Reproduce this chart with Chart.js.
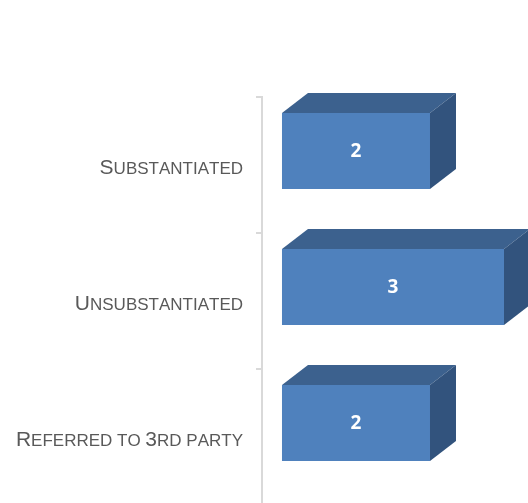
<!DOCTYPE html>
<html>
<head>
<meta charset="utf-8">
<script src="https://cdn.jsdelivr.net/npm/chart.js@4.4.0/dist/chart.umd.min.js"></script>
<style>
    html, body { margin: 0; padding: 0; background: #fff; overflow: hidden; }
    #wrap { width: 528px; height: 510px; position: relative; }
</style>
</head>
<body>
<div id="wrap"><canvas id="casesChart"></canvas></div>
<script>
const categories = ['Substantiated', 'Unsubstantiated', 'Referred to 3rd party'];
const counts = [2, 3, 2];

// colori delle facce del parallelepipedo
const frontColor = '#4f81bd';
const topColor = '#3c618e';
const sideColor = '#32537d';
const depthX = 26;
const depthY = -20;
const liftY = -14; // i blocchi 3D stanno un po' sopra il centro della categoria

// disegna testo in maiuscoletto (prima lettera e cifre grandi)
function drawSmallCaps(ctx, text, right, baseline) {
    const big = '21px "Liberation Sans", Arial, sans-serif';
    const small = '17px "Liberation Sans", Arial, sans-serif';
    const parts = [...text].map(ch => {
        const isBig = ch !== ' ' && (ch === ch.toUpperCase() && ch !== ch.toLowerCase() || /[0-9]/.test(ch));
        return { ch: ch.toUpperCase(), font: isBig ? big : small };
    });
    let total = 0;
    parts.forEach(p => {
        ctx.font = p.font;
        p.w = ctx.measureText(p.ch).width;
        total += p.w;
    });
    let x = right - total;
    ctx.textAlign = 'left';
    ctx.textBaseline = 'alphabetic';
    parts.forEach(p => {
        ctx.font = p.font;
        ctx.fillText(p.ch, x, baseline);
        x += p.w;
    });
}

const bar3d = {
    id: 'bar3d',
    beforeDatasetsDraw(chart) {
        chart.ctx.save();
        chart.ctx.translate(0, liftY);
    },
    afterDatasetsDraw(chart) {
        const ctx = chart.ctx;
        const meta = chart.getDatasetMeta(0);
        meta.data.forEach((bar, i) => {
            const top = bar.y - bar.height / 2;
            const bottom = bar.y + bar.height / 2;
            const left = bar.base;
            const right = bar.x;

            ctx.fillStyle = topColor;
            ctx.beginPath();
            ctx.moveTo(left, top);
            ctx.lineTo(left + depthX, top + depthY);
            ctx.lineTo(right + depthX, top + depthY);
            ctx.lineTo(right, top);
            ctx.closePath();
            ctx.fill();

            ctx.fillStyle = sideColor;
            ctx.beginPath();
            ctx.moveTo(right, top);
            ctx.lineTo(right + depthX, top + depthY);
            ctx.lineTo(right + depthX, bottom + depthY);
            ctx.lineTo(right, bottom);
            ctx.closePath();
            ctx.fill();

            ctx.fillStyle = '#ffffff';
            ctx.font = 'bold 19px "Open Sans", sans-serif';
            ctx.textAlign = 'center';
            ctx.textBaseline = 'middle';
            ctx.fillText(String(counts[i]), (left + right) / 2, bar.y + 1);
        });
        ctx.restore();
    },
    afterDraw(chart) {
        const ctx = chart.ctx;
        const yScale = chart.scales.y;
        ctx.save();
        ctx.fillStyle = '#595959';
        categories.forEach((label, i) => {
            const y = yScale.getPixelForTick(i);
            drawSmallCaps(ctx, label, chart.chartArea.left - 19, y + 9);
        });
        ctx.restore();
    }
};

const ctx = document.getElementById('casesChart').getContext('2d');

new Chart(ctx, {
    type: 'bar',
    data: {
        labels: categories,
        datasets: [{
            data: counts,
            base: 0,
            backgroundColor: frontColor,
            borderWidth: 0,
            barPercentage: 0.56,
            categoryPercentage: 1
        }]
    },
    options: {
        indexAxis: 'y',
        responsive: true,
        maintainAspectRatio: false,
        animation: false,
        devicePixelRatio: 1,
        layout: {
            padding: { top: 97, bottom: 5, right: 24, left: 0 }
        },
        scales: {
            x: {
                display: false,
                min: -0.27,
                max: 3
            },
            y: {
                afterFit: function (scale) {
                    scale.width = 262;
                },
                grid: {
                    offset: true,
                    drawOnChartArea: false,
                    tickLength: 6,
                    color: '#d9d9d9',
                    lineWidth: 2
                },
                border: {
                    color: '#d9d9d9',
                    width: 2
                },
                ticks: {
                    display: false // le etichette vengono disegnate dal plugin
                }
            }
        },
        plugins: {
            legend: { display: false },
            tooltip: { enabled: false }
        }
    },
    plugins: [bar3d]
});
</script>
</body>
</html>
